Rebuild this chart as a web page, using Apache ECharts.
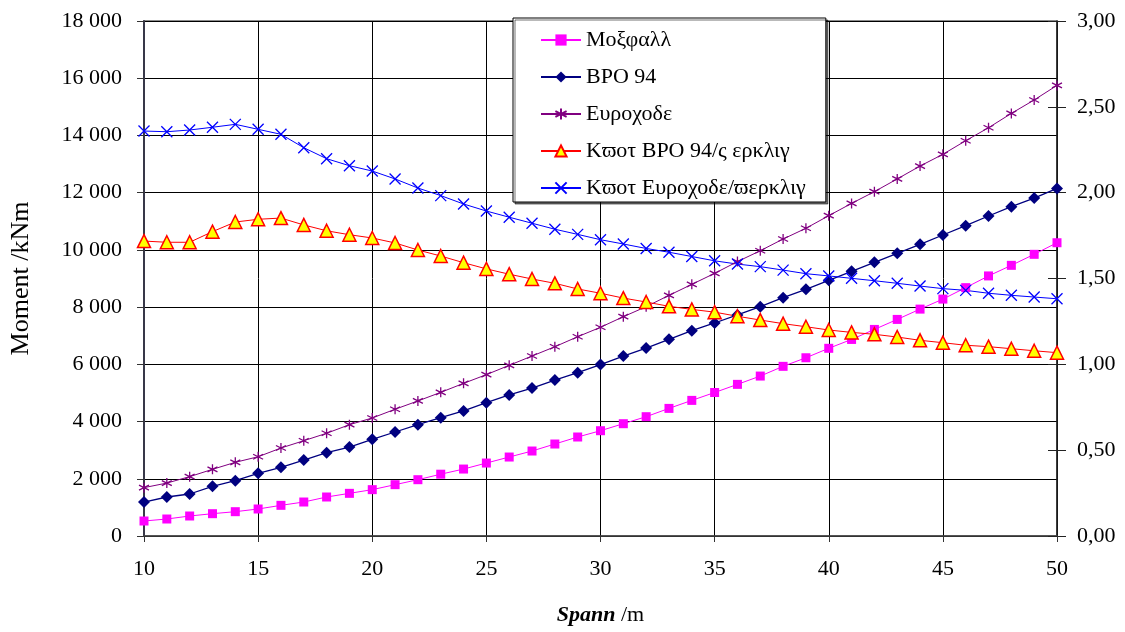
<!DOCTYPE html>
<html>
<head>
<meta charset="utf-8">
<script src="https://cdn.jsdelivr.net/npm/echarts@6/dist/echarts.min.js"></script>
<style>
  html, body { margin: 0; padding: 0; background: #fff; }
  #chart { width: 1125px; height: 632px; }
</style>
</head>
<body>
<div id="chart"></div>
<script>
// spann (m)
const spans = [10, 11, 12, 13, 14, 15, 16, 17, 18, 19, 20, 21, 22, 23, 24, 25, 26, 27, 28, 29, 30,
    31, 32, 33, 34, 35, 36, 37, 38, 39, 40, 41, 42, 43, 44, 45, 46, 47, 48, 49, 50]

// moment kNm (vänster axel)
const moxfall = [524, 594, 699, 780, 850, 944, 1072, 1188, 1363, 1491, 1620, 1794, 1968, 2160, 2340, 2550,
    2760, 2970, 3215, 3460, 3680, 3925, 4170, 4460, 4740, 5015, 5300, 5590, 5930, 6230, 6560, 6870,
    7220, 7570, 7930, 8280, 8680, 9090, 9460, 9845, 10250]
const bro94 = [1188, 1363, 1468, 1736, 1934, 2190, 2400, 2656, 2912, 3110, 3380, 3635, 3890, 4135, 4370,
    4660, 4930, 5170, 5450, 5710, 5990, 6290, 6570, 6875, 7175, 7445, 7725, 8015, 8330, 8620, 8935,
    9250, 9565, 9880, 10195, 10520, 10845, 11185, 11510, 11810, 12150]
const eurocode = [1690, 1850, 2075, 2330, 2575, 2770, 3075, 3330, 3590, 3890, 4125, 4430, 4720, 5020, 5335,
    5640, 5965, 6290, 6615, 6965, 7295, 7665, 8015, 8410, 8795, 9180, 9590, 9970, 10380, 10755, 11195,
    11625, 12035, 12480, 12930, 13340, 13815, 14270, 14770, 15240, 15750]

// kvoter (höger axel)
const kvotBro = [1.718, 1.711, 1.711, 1.773, 1.829, 1.845, 1.852, 1.812, 1.778, 1.755, 1.736, 1.707, 1.666,
    1.631, 1.592, 1.556, 1.525, 1.497, 1.472, 1.439, 1.414, 1.386, 1.363, 1.338, 1.320, 1.304, 1.280,
    1.258, 1.237, 1.219, 1.200, 1.186, 1.175, 1.159, 1.140, 1.126, 1.111, 1.103, 1.091, 1.079, 1.068]
const kvotEuro = [2.359, 2.355, 2.365, 2.381, 2.398, 2.369, 2.340, 2.262, 2.198, 2.157, 2.126, 2.080, 2.027,
    1.983, 1.934, 1.893, 1.857, 1.822, 1.787, 1.757, 1.726, 1.701, 1.675, 1.653, 1.628, 1.603, 1.584,
    1.569, 1.549, 1.528, 1.515, 1.501, 1.487, 1.472, 1.456, 1.441, 1.431, 1.414, 1.402, 1.392, 1.382]

const names = ['Μοξφαλλ', 'ΒΡΟ 94', 'Ευροχοδε', 'Κϖοτ ΒΡΟ 94/ς ερκλιγ', 'Κϖοτ Ευροχοδε/ϖερκλιγ']

const font = '"Liberation Serif", "DejaVu Serif", serif'
const pair = arr => spans.map((s, i) => [s, arr[i]])

const starPath = 'path://M5,0L5,10M0.7,2.5L9.3,7.5M0.7,7.5L9.3,2.5'
const crossPath = 'path://M0,0L10,10M10,0L0,10'

const myChart = echarts.init(document.getElementById('chart'))
myChart.setOption({
    animation: false,
    backgroundColor: '#fff',
    textStyle: { fontFamily: font, color: '#000' },
    grid: {
        left: 143, right: 68, top: 21, bottom: 96,
        show: true, borderColor: '#666', borderWidth: 1.5
    },
    legend: {
        orient: 'vertical',
        left: 513,
        top: 18,
        data: names,
        itemWidth: 40,
        itemHeight: 14,
        itemGap: 15,
        padding: [11, 20, 3, 27],
        backgroundColor: '#fff',
        borderColor: '#000',
        borderWidth: 1,
        shadowColor: 'rgba(0,0,0,0.55)',
        shadowOffsetX: 2,
        shadowOffsetY: 2,
        shadowBlur: 0,
        textStyle: { fontFamily: font, fontSize: 22, color: '#000', lineHeight: 21 }
    },
    xAxis: {
        type: 'value',
        min: 10,
        max: 50,
        interval: 5,
        name: '{b|Spann} /m',
        nameLocation: 'middle',
        nameGap: 68,
        nameTextStyle: {
            fontFamily: font, fontSize: 22, color: '#000',
            rich: { b: { fontFamily: font, fontSize: 22, fontWeight: 'bold', fontStyle: 'italic' } }
        },
        axisLine: { lineStyle: { color: '#444', width: 1.5 } },
        axisTick: { length: 6, lineStyle: { color: '#333' } },
        axisLabel: { fontSize: 22, color: '#000', margin: 22, fontFamily: font },
        splitLine: { show: true, lineStyle: { color: '#000', width: 1 } }
    },
    yAxis: [
        {
            type: 'value',
            min: 0,
            max: 18000,
            interval: 2000,
            name: 'Moment /kNm',
            nameLocation: 'middle',
            nameGap: 110,
            nameTextStyle: { fontFamily: font, fontSize: 26, color: '#000' },
            axisLine: { show: true, lineStyle: { color: '#383848', width: 2 } },
            axisTick: { show: true, length: 7, lineStyle: { color: '#333' } },
            axisLabel: {
                fontSize: 22, color: '#000', margin: 22, fontFamily: font,
                formatter: v => String(v).replace(/\B(?=(\d{3})+(?!\d))/g, ' ')
            },
            splitLine: { show: true, lineStyle: { color: '#000', width: 1 } }
        },
        {
            type: 'value',
            position: 'right',
            min: 0,
            max: 3,
            interval: 0.5,
            axisLine: { show: true, lineStyle: { color: '#222', width: 1.5 } },
            axisTick: { show: true, length: 9, lineStyle: { color: '#222' } },
            axisLabel: {
                fontSize: 22, color: '#000', margin: 20, fontFamily: font,
                formatter: v => v.toFixed(2).replace('.', ',')
            },
            splitLine: { show: false }
        },
        {
            // inre ticks på höger axel
            type: 'value',
            position: 'right',
            min: 0,
            max: 3,
            interval: 0.5,
            axisLine: { show: false },
            axisTick: { show: true, inside: true, length: 9, lineStyle: { color: '#222' } },
            axisLabel: { show: false },
            splitLine: { show: false }
        }
    ],
    series: [
        {
            name: names[0],
            type: 'line',
            data: pair(moxfall),
            symbol: 'rect',
            symbolSize: 9,
            lineStyle: { color: '#FF00FF', width: 1 },
            itemStyle: { color: '#FF00FF' }
        },
        {
            name: names[1],
            type: 'line',
            data: pair(bro94),
            symbol: 'diamond',
            symbolSize: 12,
            lineStyle: { color: '#000080', width: 1.3 },
            itemStyle: { color: '#000080' }
        },
        {
            name: names[2],
            type: 'line',
            data: pair(eurocode),
            symbol: starPath,
            symbolSize: 10,
            lineStyle: { color: '#800080', width: 1 },
            itemStyle: { color: '#800080', borderColor: '#800080', borderWidth: 1.3 }
        },
        {
            name: names[3],
            type: 'line',
            yAxisIndex: 1,
            data: pair(kvotBro),
            symbol: 'triangle',
            symbolSize: 13,
            lineStyle: { color: '#FF0000', width: 1 },
            itemStyle: { color: '#FFFF00', borderColor: '#FF0000', borderWidth: 1.5 }
        },
        {
            name: names[4],
            type: 'line',
            yAxisIndex: 1,
            data: pair(kvotEuro),
            symbol: crossPath,
            symbolSize: 11,
            lineStyle: { color: '#0000FF', width: 1 },
            itemStyle: { color: '#0000FF', borderColor: '#0000FF', borderWidth: 1.3 }
        }
    ]
})
</script>
</body>
</html>
